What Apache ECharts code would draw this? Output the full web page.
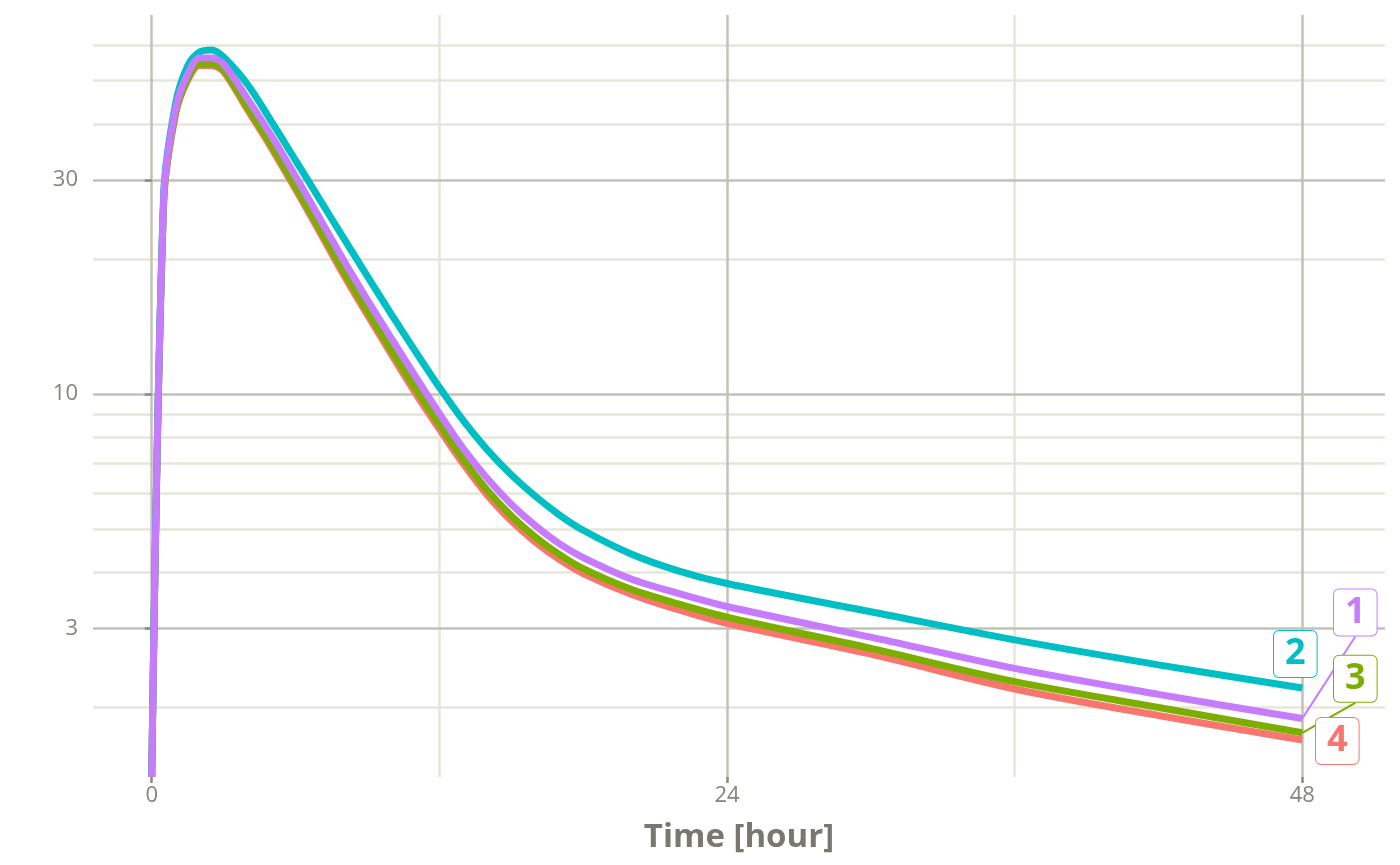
<!DOCTYPE html>
<html><head><meta charset="utf-8">
<script src="https://cdn.jsdelivr.net/npm/echarts@6/dist/echarts.min.js"></script>
<style>html,body{margin:0;padding:0;background:#fff}#chart{width:1400px;height:865px}</style>
</head><body><div id="chart"></div>
<script>
// ---- data ----
const times = [0, 0.5, 1, 1.5, 2, 2.5, 3, 4, 5, 6, 7, 8, 9, 10, 11, 12, 13, 14, 15, 16, 17, 18, 20, 22, 24, 30, 36, 42, 48];
const conc1 = [1.40, 27.5, 43.4, 51.7, 56.1, 56.1, 54.4, 45.5, 37.6, 30.6, 24.7, 19.9, 16.2, 13.3, 10.95, 9.05, 7.56, 6.48, 5.68, 5.09, 4.64, 4.32, 3.87, 3.59, 3.36, 2.87, 2.445, 2.14, 1.89];
const conc2 = [1.40, 28.0, 44.6, 53.9, 57.9, 58.5, 56.4, 49.0, 40.5, 33.2, 27.2, 22.3, 18.3, 15.05, 12.45, 10.35, 8.72, 7.51, 6.61, 5.92, 5.38, 4.97, 4.40, 4.03, 3.78, 3.27, 2.83, 2.49, 2.21];
const conc3 = [1.40, 27.0, 42.5, 50.5, 54.4, 54.4, 52.8, 43.5, 35.8, 29.0, 23.4, 18.8, 15.3, 12.5, 10.3, 8.55, 7.15, 6.10, 5.35, 4.80, 4.39, 4.08, 3.67, 3.40, 3.18, 2.71, 2.284, 2.00, 1.757];
const conc4 = [1.40, 26.8, 42.2, 50.1, 54.0, 54.0, 52.3, 43.0, 35.3, 28.6, 23.0, 18.45, 15.0, 12.25, 10.05, 8.35, 6.98, 5.95, 5.22, 4.68, 4.28, 3.98, 3.58, 3.30, 3.08, 2.63, 2.20, 1.92, 1.693];
const groupNames = ['4', '3', '2', '1'];            // drawing order (last on top)
const xTicks = [0, 24, 48];
const xMinorTicks = [12, 36];
const yTicks = [3, 10, 30];
const yMinorTicks = [2, 4, 5, 6, 7, 8, 9, 20, 40, 50, 60];

// ---- styles ----
const valuesByName = { '1': conc1, '2': conc2, '3': conc3, '4': conc4 };
const colors = { '1': '#C77CFF', '2': '#00BFC4', '3': '#7CAE00', '4': '#F8766D' };
const labelShift = { '1': { dx: 53, dy: -106, line: true }, '2': { dx: -7, dy: -34, line: false },
                     '3': { dx: 53, dy: -54, line: true }, '4': { dx: 35, dy: 1, line: false } };
const FONT = 'Open Sans';
const majorGrid = '#c2c2b6', minorGrid = '#e6e6da', tickCol = '#8a8a82', labelCol = '#85857d';

function makeSeries(name) {
  const vals = valuesByName[name];
  const c = colors[name];
  const last = vals.length - 1;
  const sh = labelShift[name];
  const data = times.map((t, i) => i === last
    ? { value: [t, vals[i]], symbol: 'circle', symbolSize: 1, label: { show: true }, labelLine: { show: sh.line } }
    : [t, vals[i]]);
  return {
    type: 'line', name: name, data: data, xAxisIndex: 0, yAxisIndex: 0,
    showSymbol: true, symbol: 'none', smooth: 0.3,
    lineStyle: { color: c, width: 7 }, itemStyle: { color: c },
    label: { show: false, position: 'inside', formatter: () => name, fontFamily: FONT, fontWeight: 'bold',
             fontSize: 36, lineHeight: 36, color: c, backgroundColor: '#ffffff', borderColor: c,
             borderWidth: 1, borderRadius: 5, padding: [5, 11] },
    labelLine: { show: false, lineStyle: { color: c, width: 2 } },
    labelLayout: { dx: sh.dx, dy: sh.dy },
    emphasis: { disabled: true }, silent: true, animation: false
  };
}

const chart = echarts.init(document.getElementById('chart'), null, { renderer: 'canvas' });
chart.setOption({
  animation: false,
  backgroundColor: '#ffffff',
  grid: { left: 93, right: 15, top: 15, bottom: 88, containLabel: false },
  xAxis: [
    { type: 'value', min: -2.45, max: 51.45, z: 2,
      axisLine: { show: false },
      axisTick: { show: true, customValues: xTicks, length: 6, lineStyle: { color: tickCol, width: 2.5 } },
      axisLabel: { customValues: xTicks, fontFamily: FONT, fontSize: 22, color: labelCol, margin: 8 },
      splitLine: { show: true, lineStyle: { color: majorGrid, width: 2.5 } },
      name: 'Time [hour]', nameLocation: 'middle', nameGap: 44,
      nameTextStyle: { fontFamily: FONT, fontWeight: 'bold', fontSize: 33, color: '#78786e' } },
    { type: 'value', min: -2.45, max: 51.45, z: 1, position: 'bottom',
      axisLine: { show: false }, axisTick: { show: false, customValues: xMinorTicks },
      axisLabel: { show: false, customValues: xMinorTicks },
      splitLine: { show: true, lineStyle: { color: minorGrid, width: 2.5 } } }
  ],
  yAxis: [
    { type: 'log', logBase: 10, min: 1.4, max: 70, z: 2,
      axisLine: { show: false },
      axisTick: { show: true, customValues: yTicks, length: 7, lineStyle: { color: tickCol, width: 2.5 } },
      axisLabel: { customValues: yTicks, fontFamily: FONT, fontSize: 22, color: labelCol, margin: 15 },
      splitLine: { show: true, lineStyle: { color: majorGrid, width: 2.5 } },
      minorTick: { show: false }, minorSplitLine: { show: false } },
    { type: 'log', logBase: 10, min: 1.4, max: 70, z: 1, position: 'left',
      axisLine: { show: false }, axisTick: { show: false, customValues: yMinorTicks },
      axisLabel: { show: false, customValues: yMinorTicks },
      splitLine: { show: true, lineStyle: { color: minorGrid, width: 2.5 } } }
  ],
  series: groupNames.map(makeSeries)
});
</script>
</body></html>
